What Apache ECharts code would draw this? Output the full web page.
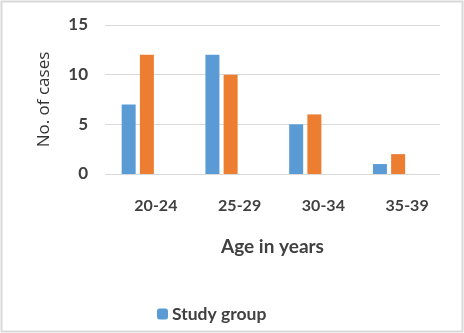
<!DOCTYPE html>
<html><head><meta charset="utf-8">
<script src="https://cdn.jsdelivr.net/npm/echarts@6/dist/echarts.min.js"></script>
<style>html,body{margin:0;padding:0;background:#fff}#c{width:464px;height:333px}</style>
</head><body><div id="c"></div>
<script>
const categories = ['20-24', '25-29', '30-34', '35-39'];
const studyGroup = [7, 12, 5, 1];
const series2 = [12, 10, 6, 2];
const series3 = [null, null, null, null];
const yTicks = [0, 5, 10, 15];

const chart = echarts.init(document.getElementById('c'));
const font = 'Lato, "Open Sans", sans-serif';
chart.setOption({
  animation: false,
  graphic: [{type: 'rect', shape: {x: 1.5, y: 1.5, width: 461, height: 330}, style: {fill: 'none', stroke: '#d9d9d9', lineWidth: 2}}],
  legend: {
    data: ['Study group'], left: 152, top: 300, itemWidth: 11, itemHeight: 11, itemGap: 5,
    textStyle: {fontFamily: font, fontWeight: 'bold', fontSize: 17.5, color: '#404040', padding: [0, 0, 0, -1]}
  },
  grid: {left: 105, right: 24, top: 25, bottom: 159},
  xAxis: {
    type: 'category', data: categories,
    axisLine: {show: false}, axisTick: {show: false},
    axisLabel: {margin: 24, fontFamily: font, fontWeight: 'bold', fontSize: 16, color: '#404040', padding: [0, 0, 0, 18]},
    name: 'Age in years', nameLocation: 'middle', nameGap: 63,
    nameTextStyle: {fontFamily: font, fontWeight: 'bold', fontSize: 19, color: '#404040'}
  },
  yAxis: {
    type: 'value', min: 0, max: 15, interval: 5,
    axisLine: {show: false}, axisTick: {show: false},
    splitLine: {lineStyle: {color: '#d9d9d9'}},
    axisLabel: {margin: 17, fontFamily: font, fontWeight: 'bold', fontSize: 17, color: '#404040'},
    name: 'No. of cases', nameLocation: 'middle', nameGap: 52, nameRotate: 90,
    nameTextStyle: {fontFamily: '"Open Sans", sans-serif', fontSize: 17, color: '#333333'}
  },
  series: [
    {name: 'Study group', type: 'bar', data: studyGroup, barWidth: 14, barGap: '30%', itemStyle: {color: '#5B9BD5'}},
    {name: 'Control group', type: 'bar', data: series2, barWidth: 14, barGap: '30%', itemStyle: {color: '#ED7D31'}},
    {name: 'Series 3', type: 'bar', data: series3, barWidth: 14, barGap: '30%', itemStyle: {color: '#A5A5A5'}}
  ]
});
</script></body></html>
